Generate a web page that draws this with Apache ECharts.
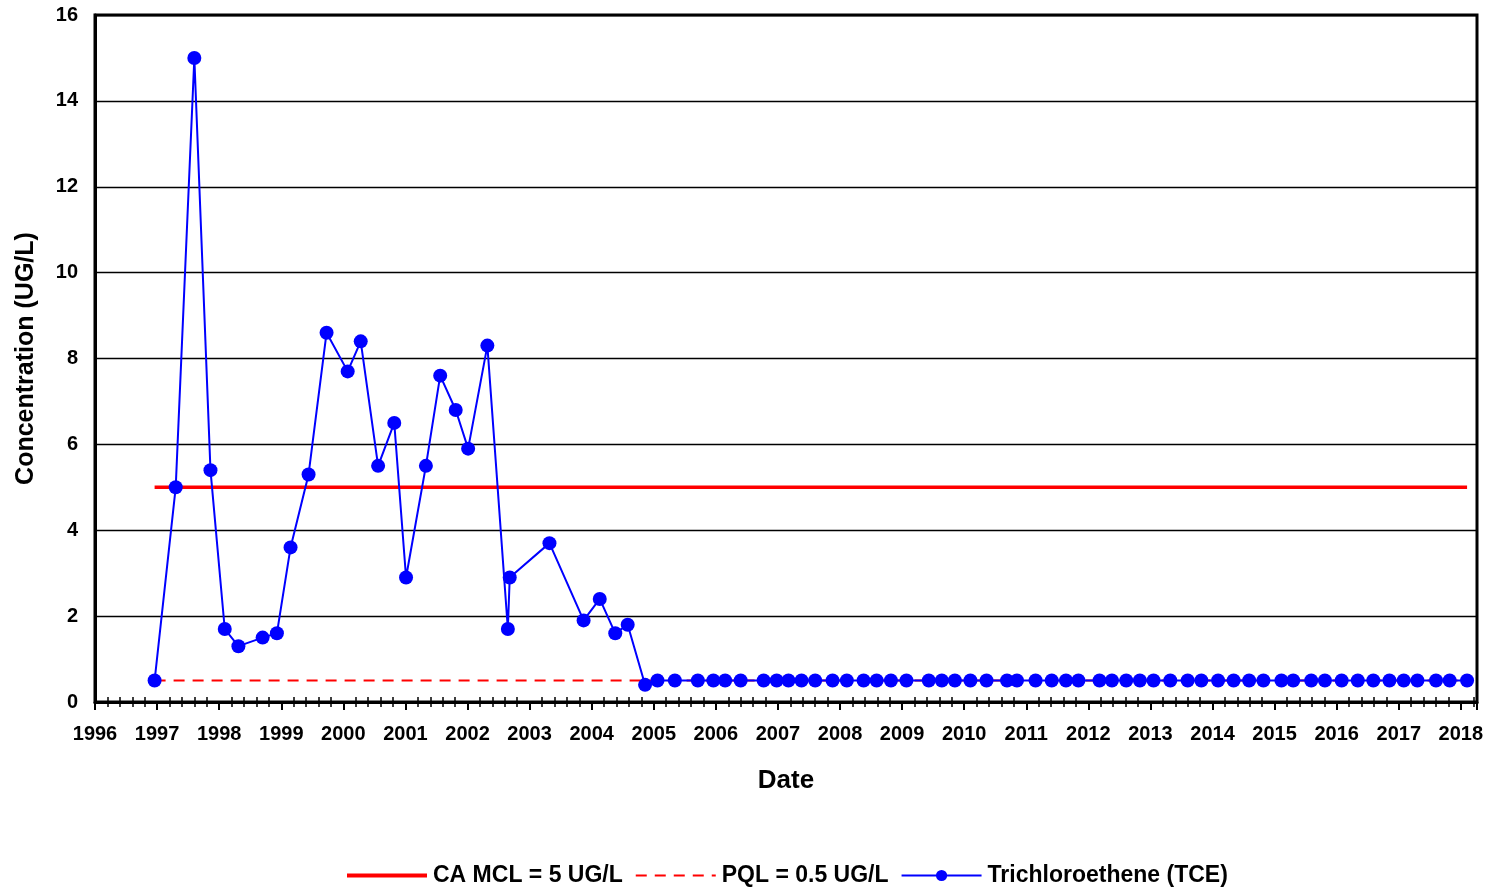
<!DOCTYPE html>
<html>
<head>
<meta charset="utf-8">
<script src="https://cdn.jsdelivr.net/npm/echarts@6/dist/echarts.min.js"></script>
<style>
html,body{margin:0;padding:0;background:#fff;}
#chart{width:1490px;height:892px;}
</style>
</head>
<body>
<div id="chart"></div>
<script>
// Sample dates as decimal years, TCE concentrations (UG/L)
const sampleYears = [
  1996.96, 1997.30, 1997.60, 1997.86, 1998.09, 1998.31, 1998.70, 1998.93, 1999.15, 1999.44,
  1999.73, 2000.07, 2000.28, 2000.56, 2000.82, 2001.01, 2001.33, 2001.56, 2001.81, 2002.01,
  2002.32, 2002.65, 2002.68, 2003.32, 2003.87, 2004.13, 2004.38, 2004.58, 2004.86,
  2005.06, 2005.34, 2005.71, 2005.96, 2006.15, 2006.40, 2006.77, 2006.98, 2007.17, 2007.38,
  2007.60, 2007.88, 2008.11, 2008.38, 2008.59, 2008.82, 2009.07, 2009.43, 2009.64, 2009.85,
  2010.10, 2010.36, 2010.69, 2010.85, 2011.15, 2011.41, 2011.64, 2011.84, 2012.18, 2012.38,
  2012.61, 2012.83, 2013.05, 2013.32, 2013.60, 2013.82, 2014.09, 2014.34, 2014.59, 2014.82,
  2015.11, 2015.30, 2015.59, 2015.81, 2016.08, 2016.34, 2016.59, 2016.85, 2017.08, 2017.30,
  2017.60, 2017.82, 2018.10
];
const tceValues = [
  0.5, 5.0, 15.0, 5.4, 1.7, 1.3, 1.5, 1.6, 3.6, 5.3,
  8.6, 7.7, 8.4, 5.5, 6.5, 2.9, 5.5, 7.6, 6.8, 5.9,
  8.3, 1.7, 2.9, 3.7, 1.9, 2.4, 1.6, 1.8, 0.4,
  0.5, 0.5, 0.5, 0.5, 0.5, 0.5, 0.5, 0.5, 0.5, 0.5,
  0.5, 0.5, 0.5, 0.5, 0.5, 0.5, 0.5, 0.5, 0.5, 0.5,
  0.5, 0.5, 0.5, 0.5, 0.5, 0.5, 0.5, 0.5, 0.5, 0.5,
  0.5, 0.5, 0.5, 0.5, 0.5, 0.5, 0.5, 0.5, 0.5, 0.5,
  0.5, 0.5, 0.5, 0.5, 0.5, 0.5, 0.5, 0.5, 0.5, 0.5,
  0.5, 0.5, 0.5
];
const mclValue = 5;
const pqlValue = 0.5;
const limitYears = [1996.96, 2018.10];
const seriesNames = ['CA MCL = 5 UG/L', 'PQL = 0.5 UG/L', 'Trichloroethene (TCE)'];
const xTitle = 'Date';
const yTitle = 'Concentration (UG/L)';

const FONT = '"Liberation Sans", Arial, sans-serif';
const tceData = sampleYears.map((y, i) => [y, tceValues[i]]);
const mclData = limitYears.map(y => [y, mclValue]);
const pqlData = limitYears.map(y => [y, pqlValue]);
const noSymbol = {color: 'rgba(0,0,0,0)', borderColor: 'rgba(0,0,0,0)', borderWidth: 0};

const chart = echarts.init(document.getElementById('chart'), null, {renderer: 'canvas'});
const xMin = 1996, xMax = 2018.26;
chart.setOption({
  animation: false,
  backgroundColor: '#fff',
  grid: {left: 95, top: 15, right: 13, bottom: 190, show: true, borderColor: '#000', borderWidth: 3, backgroundColor: 'transparent'},
  legend: {
    left: 340, top: 859, itemWidth: 80, itemHeight: 14, itemGap: 12,
    textStyle: {fontFamily: FONT, fontWeight: 'bold', fontSize: 23, color: '#000', padding: [0, 0, 0, 1]},
    data: [
      {name: seriesNames[0], itemStyle: noSymbol, lineStyle: {width: 4}},
      {name: seriesNames[1], itemStyle: noSymbol, lineStyle: {width: 2}},
      {name: seriesNames[2]}
    ]
  },
  xAxis: [{
    type: 'value', min: xMin, max: xMax, interval: 1,
    name: xTitle, nameLocation: 'middle', nameGap: 66,
    nameTextStyle: {fontFamily: FONT, fontWeight: 'bold', fontSize: 26, color: '#000'},
    axisLine: {show: true, lineStyle: {color: '#000', width: 3}},
    axisTick: {show: true, length: 8, lineStyle: {color: '#000', width: 2}},
    minorTick: {show: true, splitNumber: 5, length: 5, lineStyle: {color: '#000', width: 1.5}},
    axisLabel: {
      fontFamily: FONT, fontWeight: 'bold', fontSize: 20, color: '#000', margin: 22,
      showMinLabel: true, showMaxLabel: true,
      formatter: v => (Math.abs(v - Math.round(v)) < 1e-6 ? String(Math.round(v)) : '')
    },
    splitLine: {show: false}
  }, {
    type: 'value', min: xMin, max: xMax, interval: 1, position: 'bottom',
    axisLine: {show: false},
    axisTick: {show: false, inside: true},
    minorTick: {show: true, splitNumber: 5, length: 5, lineStyle: {color: '#000', width: 1.5}},
    axisLabel: {show: false},
    splitLine: {show: false}
  }],
  yAxis: {
    type: 'value', min: 0, max: 16, interval: 2,
    name: yTitle, nameLocation: 'middle', nameGap: 56, nameRotate: 90,
    nameTextStyle: {fontFamily: FONT, fontWeight: 'bold', fontSize: 25, color: '#000'},
    axisLine: {show: true, lineStyle: {color: '#000', width: 3}},
    axisTick: {show: false},
    axisLabel: {fontFamily: FONT, fontWeight: 'bold', fontSize: 20, color: '#000', margin: 17},
    splitLine: {show: true, lineStyle: {color: '#000', width: 1.4}}
  },
  series: [{
    name: seriesNames[0], type: 'line', data: mclData, symbol: 'none',
    lineStyle: {color: '#FF0000', width: 3.5}, itemStyle: {color: '#FF0000'}, z: 3
  }, {
    name: seriesNames[1], type: 'line', data: pqlData, symbol: 'none',
    lineStyle: {color: '#FF0000', width: 2, type: [11, 8]}, itemStyle: {color: '#FF0000'}, z: 3
  }, {
    name: seriesNames[2], type: 'line', data: tceData, symbol: 'circle', symbolSize: 14,
    lineStyle: {color: '#0000FF', width: 2}, itemStyle: {color: '#0000FF'}, z: 4
  }]
});
</script>
</body>
</html>
